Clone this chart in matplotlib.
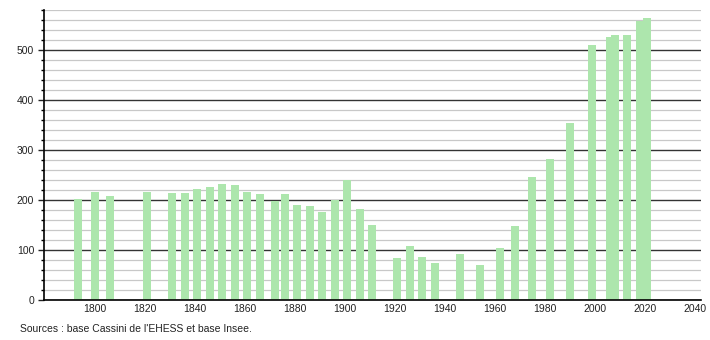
import matplotlib
matplotlib.use("Agg")
import matplotlib.pyplot as plt
from matplotlib.ticker import MultipleLocator

# population by census year
years = [1793, 1800, 1806, 1821, 1831, 1836, 1841, 1846, 1851, 1856,
         1861, 1866, 1872, 1876, 1881, 1886, 1891, 1896, 1901, 1906,
         1911, 1921, 1926, 1931, 1936, 1946, 1954, 1962, 1968, 1975,
         1982, 1990, 1999, 2006, 2008, 2013, 2018, 2021]
population = [203, 216, 208, 216, 214, 214, 222, 226, 232, 230,
              216, 212, 198, 212, 190, 188, 176, 200, 240, 182,
              150, 84, 108, 86, 74, 92, 70, 104, 148, 246,
              282, 354, 510, 526, 530, 530, 558, 564]

x_ticks = list(range(1800, 2041, 20))
source_text = "Sources : base Cassini de l'EHESS et base Insee."

plt.rcParams['font.family'] = ['Liberation Sans', 'DejaVu Sans']

fig = plt.figure(figsize=(7.1, 3.4), dpi=100)
ax = fig.add_axes([0.062, 0.1176, 0.925, 0.853])

ax.bar(years, population, width=3.2, color='#ade6ad', zorder=3)

ax.set_xlim(1779.6, 2042.4)
ax.set_ylim(0, 580)
ax.set_xticks(x_ticks)
ax.set_xticklabels([str(y) for y in x_ticks])
ax.yaxis.set_major_locator(MultipleLocator(100))
ax.yaxis.set_minor_locator(MultipleLocator(20))

ax.grid(axis='y', which='minor', color='#c8c8c8', linewidth=0.9, zorder=1)
ax.grid(axis='y', which='major', color='#333333', linewidth=1.0, zorder=2)

for side in ['top', 'right']:
    ax.spines[side].set_visible(False)
ax.spines['left'].set_linewidth(1.2)
ax.spines['bottom'].set_linewidth(1.2)
ax.spines['left'].set_zorder(4)
ax.spines['bottom'].set_zorder(4)

ax.tick_params(axis='x', length=0, labelsize=7.5, pad=3, colors='#222222')
ax.tick_params(axis='y', which='major', length=4, width=1, labelsize=7.5, pad=3, colors='#222222')
ax.tick_params(axis='y', which='minor', length=2, width=1)

fig.text(0.028, 1 - 329 / 340, source_text, fontsize=7.5, color='#222222', va='center')

fig.savefig("out.png", dpi=100)
